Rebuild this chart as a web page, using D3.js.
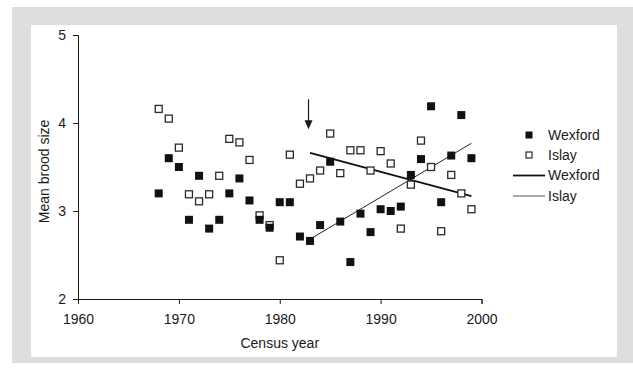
<!DOCTYPE html>
<html>
<head>
<meta charset="utf-8">
<script src="https://cdn.jsdelivr.net/npm/d3@7"></script>
<style>
  html, body { margin: 0; padding: 0; background: #fff; }
  svg { display: block; font-family: "Liberation Sans", Arial, Helvetica, sans-serif; }
</style>
</head>
<body>
<svg id="chart" width="633" height="374"></svg>
<script>
// Census years and mean brood size per colony
const years = d3.range(1968, 2000);
const wexford = [3.20, 3.60, 3.50, 2.90, 3.40, 2.80, 2.90, 3.20, 3.37, 3.12,
                 2.90, 2.81, 3.10, 3.10, 2.71, 2.66, 2.84, 3.56, 2.88, 2.42,
                 2.97, 2.76, 3.02, 3.00, 3.05, 3.41, 3.59, 4.19, 3.10, 3.63,
                 4.09, 3.60];
const islay = [4.16, 4.05, 3.72, 3.19, 3.11, 3.19, 3.40, 3.82, 3.78, 3.58,
               2.95, 2.84, 2.44, 3.64, 3.31, 3.37, 3.46, 3.88, 3.43, 3.69,
               3.69, 3.46, 3.68, 3.54, 2.80, 3.30, 3.80, 3.50, 2.77, 3.41,
               3.20, 3.02];

// Fitted trend lines from 1983 onwards (legend order: Wexford thick, Islay thin)
const trendWexford = [[1983, 3.66], [1999, 3.17]];
const trendIslay = [[1983, 2.68], [1999, 3.77]];

// Arrow marking 1983
const arrowYear = 1983;
const arrowFrom = 4.27;
const arrowTo = 3.93;

const xTicks = [1960, 1970, 1980, 1990, 2000];
const yTicks = [2, 3, 4, 5];

const svg = d3.select("#chart");

// Grey frame with white panel
svg.append("rect").attr("x", 12).attr("y", 7).attr("width", 621).attr("height", 356).attr("fill", "#dedede");
svg.append("rect").attr("x", 31).attr("y", 25).attr("width", 586).attr("height", 332).attr("fill", "#ffffff");

const x = d3.scaleLinear().domain([1960, 2000]).range([78, 481.5]);
const y = d3.scaleLinear().domain([2, 5]).range([299, 35]);

const ink = "#1a1a1a";

// Axes
const xAxis = svg.append("g").attr("transform", `translate(0,${y(2)})`)
  .call(d3.axisBottom(x).tickValues(xTicks).tickFormat(d3.format("d")).tickSize(5).tickPadding(10));
const yAxis = svg.append("g").attr("transform", `translate(${x(1960)},0)`)
  .call(d3.axisLeft(y).tickValues(yTicks).tickFormat(d3.format("d")).tickSize(5).tickPadding(7));
[xAxis, yAxis].forEach(g => {
  g.select(".domain").attr("stroke", ink);
  g.selectAll(".tick line").attr("stroke", ink);
  g.selectAll(".tick text").attr("fill", ink).style("font-size", "14px")
    .style("font-family", '"Liberation Sans", Arial, sans-serif');
});

// Axis titles
svg.append("text").attr("x", x(1980)).attr("y", 348).attr("text-anchor", "middle")
  .attr("fill", ink).style("font-size", "14px").text("Census year");
svg.append("text").attr("transform", `translate(49,${y(3.45)}) rotate(-90)`)
  .attr("text-anchor", "middle").attr("fill", ink).style("font-size", "14px").text("Mean brood size");

// Trend lines
const line = d3.line().x(d => x(d[0])).y(d => y(d[1]));
svg.append("path").datum(trendIslay).attr("d", line).attr("fill", "none")
  .attr("stroke", "#222").attr("stroke-width", 1);
svg.append("path").datum(trendWexford).attr("d", line).attr("fill", "none")
  .attr("stroke", "#111").attr("stroke-width", 1.8);

// Points
const s = 8;
svg.append("g").selectAll("rect").data(years.map((yr, i) => [yr, islay[i]])).join("rect")
  .attr("x", d => x(d[0]) - s / 2 + 0.5).attr("y", d => y(d[1]) - s / 2 + 0.5)
  .attr("width", s - 1).attr("height", s - 1)
  .attr("fill", "#fff").attr("stroke", "#2a2a2a").attr("stroke-width", 1.3);
svg.append("g").selectAll("rect").data(years.map((yr, i) => [yr, wexford[i]])).join("rect")
  .attr("x", d => x(d[0]) - s / 2).attr("y", d => y(d[1]) - s / 2)
  .attr("width", s).attr("height", s).attr("fill", "#111");

// Arrow
const ax = x(arrowYear) - 1.5;
svg.append("line").attr("x1", ax).attr("x2", ax).attr("y1", y(arrowFrom)).attr("y2", y(arrowTo) - 6)
  .attr("stroke", ink).attr("stroke-width", 1.2);
svg.append("path")
  .attr("d", `M${ax - 4},${y(arrowTo) - 9} L${ax + 4},${y(arrowTo) - 9} L${ax},${y(arrowTo)} Z`)
  .attr("fill", ink);

// Legend
const legend = svg.append("g").attr("transform", "translate(529,0)");
const rows = [
  { label: "Wexford", kind: "filled", y: 135 },
  { label: "Islay", kind: "open", y: 155 },
  { label: "Wexford", kind: "thick", y: 175.5 },
  { label: "Islay", kind: "thin", y: 196 }
];
rows.forEach(r => {
  if (r.kind === "filled") {
    legend.append("rect").attr("x", -3.5).attr("y", r.y - 3.5).attr("width", 7).attr("height", 7).attr("fill", "#111");
  } else if (r.kind === "open") {
    legend.append("rect").attr("x", -3).attr("y", r.y - 3).attr("width", 6).attr("height", 6)
      .attr("fill", "#fff").attr("stroke", "#2a2a2a").attr("stroke-width", 1.2);
  } else {
    legend.append("line").attr("x1", -16).attr("x2", 16).attr("y1", r.y).attr("y2", r.y)
      .attr("stroke", r.kind === "thick" ? "#111" : "#555")
      .attr("stroke-width", r.kind === "thick" ? 1.8 : 1);
  }
  legend.append("text").attr("x", 19).attr("y", r.y).attr("dy", "0.35em")
    .attr("fill", ink).style("font-size", "14px").text(r.label);
});
</script>
</body>
</html>
